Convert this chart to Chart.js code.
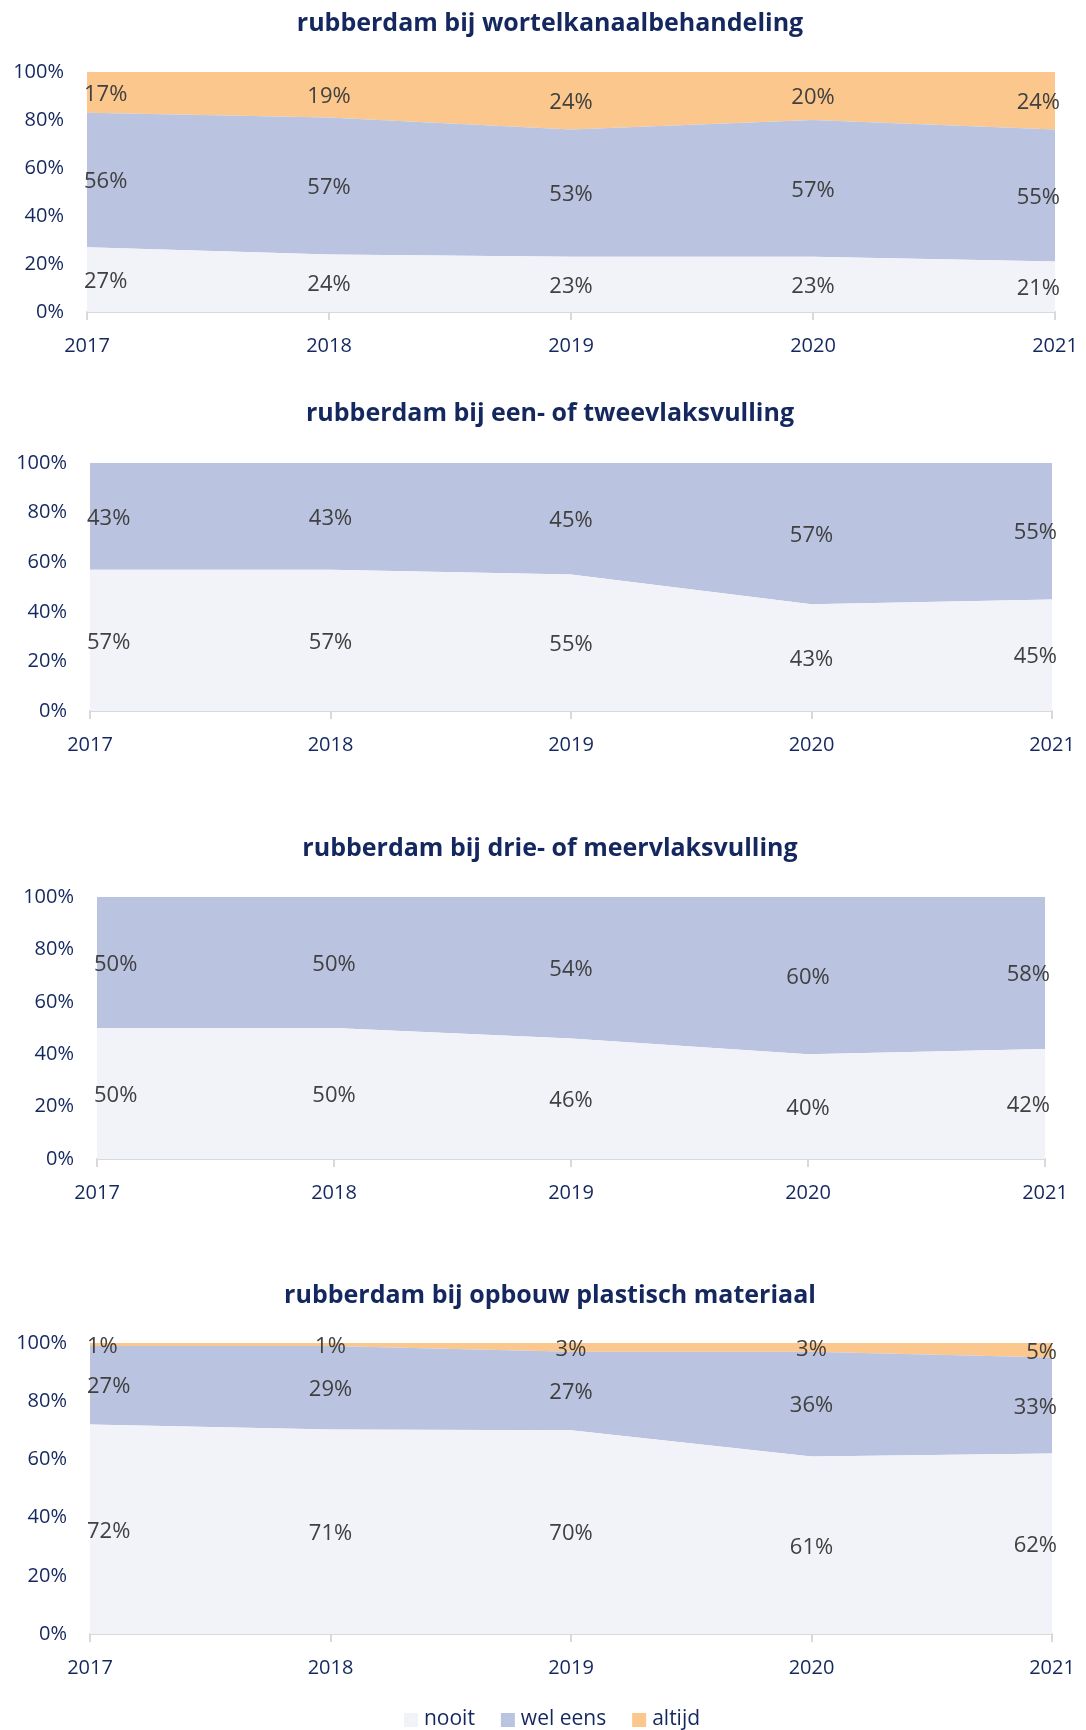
<!DOCTYPE html>
<html>
<head>
<meta charset="utf-8">
<script src="https://cdn.jsdelivr.net/npm/chart.js@4/dist/chart.umd.min.js"></script>
<style>
  html, body { margin: 0; padding: 0; background: #fff; }
  body { width: 1086px; height: 1730px; position: relative; overflow: hidden; }
  canvas { position: absolute; left: 0; }
</style>
</head>
<body>
<canvas id="chart1" width="1086" height="362" style="top:0px"></canvas>
<canvas id="chart2" width="1086" height="381" style="top:380px"></canvas>
<canvas id="chart3" width="1086" height="394" style="top:815px"></canvas>
<canvas id="chart4" width="1086" height="470" style="top:1260px"></canvas>
<script>
// data
const years = ['2017', '2018', '2019', '2020', '2021'];
const yTicks = [0, 20, 40, 60, 80, 100];
const seriesNames = ['nooit', 'wel eens', 'altijd'];

const wortelNooit = [27, 24, 23, 23, 21];
const wortelWelEens = [56, 57, 53, 57, 55];
const wortelAltijd = [17, 19, 24, 20, 24];

const tweeNooit = [57, 57, 55, 43, 45];
const tweeWelEens = [43, 43, 45, 57, 55];

const drieNooit = [50, 50, 46, 40, 42];
const drieWelEens = [50, 50, 54, 60, 58];

const opbouwNooit = [72, 71, 70, 61, 62];
const opbouwWelEens = [27, 29, 27, 36, 33];
const opbouwAltijd = [1, 1, 3, 3, 5];

const fillColors = ['#f2f3f9', '#bac4e0', '#fbc78d'];
const navy = '#14285f';
const labelGrey = '#404040';
const axisGrey = '#d9d9d9';

Chart.defaults.font.family = "'Open Sans', sans-serif";

// labels in the middle of each band, first/last kept inside the plot
const areaLabels = {
  id: 'areaLabels',
  afterDatasetsDraw(chart) {
    const ctx = chart.ctx;
    const yScale = chart.scales.y;
    ctx.save();
    ctx.font = "22px 'Open Sans'";
    ctx.fillStyle = labelGrey;
    ctx.textBaseline = 'middle';
    chart.data.datasets.forEach((ds, d) => {
      const meta = chart.getDatasetMeta(d);
      meta.data.forEach((pt, i) => {
        const below = d === 0 ? yScale.getPixelForValue(0) : chart.getDatasetMeta(d - 1).data[i].y;
        const y = (pt.y + below) / 2 + 2;
        let x = pt.x;
        let align = 'center';
        if (i === 0) { x = pt.x - 3; align = 'left'; }
        if (i === ds.rawValues.length - 1) { x = pt.x + 5; align = 'right'; }
        ctx.textAlign = align;
        ctx.fillText(ds.rawValues[i] + '%', x, y);
      });
    });
    ctx.restore();
  }
};

// title centred a bit right of the canvas middle, like the original
const chartTitle = {
  id: 'chartTitle',
  afterDraw(chart, args, opts) {
    const ctx = chart.ctx;
    ctx.save();
    ctx.font = "bold 25px 'Open Sans'";
    ctx.fillStyle = navy;
    ctx.textAlign = 'center';
    ctx.textBaseline = 'middle';
    ctx.fillText(opts.text, 550, opts.y);
    ctx.restore();
  }
};

// one-row legend under the last chart
const bottomLegend = {
  id: 'bottomLegend',
  afterDraw(chart, args, opts) {
    if (!opts.show) return;
    const ctx = chart.ctx;
    ctx.save();
    ctx.font = "21px 'Open Sans'";
    const items = chart.data.datasets.map(ds => ({
      text: ds.label, color: ds.backgroundColor, w: ctx.measureText(ds.label).width
    }));
    const total = items.reduce((s, it) => s + 20 + it.w, 0) + 26 * (items.length - 1);
    let x = opts.centerX - total / 2;
    const y = opts.y;
    ctx.textAlign = 'left';
    ctx.textBaseline = 'middle';
    items.forEach(it => {
      ctx.fillStyle = it.color;
      ctx.fillRect(x, y - 6, 14, 14);
      x += 20;
      ctx.fillStyle = navy;
      ctx.fillText(it.text, x, y);
      x += it.w + 26;
    });
    ctx.restore();
  }
};

function makeChart(id, title, series, box) {
  // 100% stacked: each year is scaled to its own total
  const totals = years.map((y, i) => series.reduce((s, list) => s + list[i], 0));
  const datasets = series.map((list, k) => ({
    label: seriesNames[k],
    rawValues: list,
    data: list.map((v, i) => v / totals[i] * 100),
    backgroundColor: fillColors[k],
    borderColor: 'rgba(0,0,0,0)',
    borderWidth: 0,
    pointRadius: 0,
    pointHoverRadius: 0,
    tension: 0,
    fill: k === 0 ? 'origin' : '-1'
  }));

  return new Chart(document.getElementById(id), {
    type: 'line',
    data: { labels: years, datasets },
    options: {
      responsive: false,
      animation: false,
      events: [],
      layout: { padding: { left: 0, right: 1086 - box.right, top: box.plotTop, bottom: box.bottomPad } },
      plugins: {
        title: { display: false },
        legend: { display: false },
        chartTitle: { text: title, y: box.titleY },
        bottomLegend: { show: !!box.legend, centerX: 552, y: 459 },
        tooltip: { enabled: false }
      },
      scales: {
        x: {
          offset: false,
          grid: { display: true, drawOnChartArea: false, drawTicks: true, tickLength: 8, color: axisGrey, lineWidth: 2 },
          border: { display: true, color: axisGrey, width: 2 },
          ticks: { color: navy, font: { size: 20, lineHeight: 2 }, padding: 6, maxRotation: 0 },
          afterFit: s => { s.height = 50; }
        },
        y: {
          stacked: true,
          min: 0,
          max: 100,
          grid: { display: false, drawTicks: false },
          border: { display: false },
          afterBuildTicks: s => { s.ticks = yTicks.map(v => ({ value: v })); },
          ticks: { color: navy, font: { size: 20 }, padding: 23, callback: v => v + '%' },
          afterFit: s => { s.width = box.left; }
        }
      }
    },
    plugins: [areaLabels, chartTitle, bottomLegend]
  });
}

makeChart('chart1', 'rubberdam bij wortelkanaalbehandeling',
  [wortelNooit, wortelWelEens, wortelAltijd],
  { left: 87, right: 1055, plotTop: 72, titleY: 24, bottomPad: 0 });

makeChart('chart2', 'rubberdam bij een- of tweevlaksvulling',
  [tweeNooit, tweeWelEens],
  { left: 90, right: 1052, plotTop: 83, titleY: 34, bottomPad: 0 });

makeChart('chart3', 'rubberdam bij drie- of meervlaksvulling',
  [drieNooit, drieWelEens],
  { left: 97, right: 1045, plotTop: 82, titleY: 34, bottomPad: 0 });

makeChart('chart4', 'rubberdam bij opbouw plastisch materiaal',
  [opbouwNooit, opbouwWelEens, opbouwAltijd],
  { left: 90, right: 1052, plotTop: 83, titleY: 36, bottomPad: 46, legend: true });
</script>
</body>
</html>
